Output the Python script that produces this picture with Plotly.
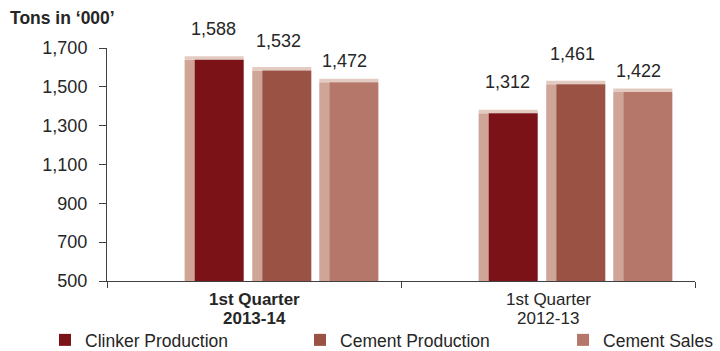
import plotly.graph_objects as go

# ---- data ----
quarter_labels = ["1st Quarter", "1st Quarter"]
year_labels = ["2013-14", "2012-13"]
categories = ["Q1 2013-14", "Q1 2012-13"]
series_names = ["Clinker Production", "Cement Production", "Cement Sales"]
clinker = [1588, 1312]
cement_prod = [1532, 1461]
cement_sales = [1472, 1422]
series_values = [clinker, cement_prod, cement_sales]
y_ticks = [500, 700, 900, 1100, 1300, 1500, 1700]

# ---- style ----
front_colors = ["#7B1218", "#9A5244", "#B47769"]
side_color = "#CFA597"
top_color = "#E4CBC1"
DEPTH = 52          # perspective lift of the 3D front face (value units)
TOP_H = 18          # thickness of the 3D top face (value units)
side_offsets = [-0.236, -0.006, 0.222]
SIDE_W = 0.034
FRONT_W = 0.167
label_dx = [-41, 24, 90]
label_dy = [41, 40, 31]
legend_x = [0.0625, 0.4167, 0.782]
bold_cat = [True, False]
text_color = "#262626"
FONT = "Liberation Sans, Arial, sans-serif"
FS = 18

fig = go.Figure()
legend_ids = ["legend", "legend2", "legend3"]
for i, (name, vals) in enumerate(zip(series_names, series_values)):
    lifted = [v + DEPTH for v in vals]
    fig.add_trace(go.Bar(x=categories, y=lifted, offset=side_offsets[i], width=SIDE_W,
                         marker=dict(color=side_color, line=dict(width=0)),
                         showlegend=False, hoverinfo="skip"))
    fig.add_trace(go.Bar(x=categories, y=[TOP_H] * len(vals), base=lifted,
                         offset=side_offsets[i], width=SIDE_W + FRONT_W,
                         marker=dict(color=top_color, line=dict(width=0)),
                         showlegend=False, hoverinfo="skip"))
    fig.add_trace(go.Bar(x=categories, y=lifted, offset=side_offsets[i] + SIDE_W,
                         width=FRONT_W, name=name, legend=legend_ids[i],
                         marker=dict(color=front_colors[i], line=dict(width=0)),
                         customdata=vals, hovertemplate="%{customdata:,}<extra>" + name + "</extra>"))
    for c, v in zip(categories, vals):
        fig.add_annotation(x=c, y=v, xref="x", yref="y", text=f"{v:,}", showarrow=False,
                           xshift=label_dx[i], yshift=label_dy[i],
                           font=dict(family=FONT, size=FS, color=text_color))

# category labels (two tight lines each)
for c, q, yr, b in zip(categories, quarter_labels, year_labels, bold_cat):
    for txt, shift in ((q, -18), (yr, -37.5)):
        fig.add_annotation(x=c, y=0, xref="x", yref="paper", text=f"<b>{txt}</b>" if b else txt,
                           showarrow=False, yanchor="middle", yshift=shift, borderpad=0,
                           font=dict(family=FONT, size=17, color=text_color))

fig.add_annotation(xref="paper", yref="paper", x=-0.168, y=1.129, xanchor="left", yanchor="middle",
                   text="<b>Tons in ‘000’</b>", showarrow=False,
                   font=dict(family=FONT, size=17.5, color=text_color))

legend_common = dict(orientation="h", xref="container", yref="container", y=1 - 340 / 351,
                     xanchor="left", yanchor="middle", bgcolor="rgba(0,0,0,0)",
                     font=dict(family=FONT, size=17.5, color=text_color))

fig.update_layout(
    width=720, height=351,
    margin=dict(l=107, r=25, t=48, b=70, autoexpand=False),
    paper_bgcolor="white", plot_bgcolor="white",
    barmode="overlay",
    font=dict(family=FONT, size=FS, color=text_color),
    showlegend=True,
    legend=dict(x=legend_x[0], **legend_common),
    legend2=dict(x=legend_x[1], **legend_common),
    legend3=dict(x=legend_x[2], **legend_common),
    xaxis=dict(type="category", range=[-0.5, 1.5], showline=True, linecolor="#404040", linewidth=1,
               ticks="outside", tickson="boundaries", ticklen=6, tickcolor="#404040",
               showgrid=False, zeroline=False, automargin=False, showticklabels=False),
    yaxis=dict(range=[500, 1700], tickvals=y_ticks, ticktext=[f"{t:,}" for t in y_ticks],
               showline=True, linecolor="#404040", linewidth=1, ticks="outside", ticklen=7,
               tickcolor="#404040", showgrid=False, zeroline=False, automargin=False,
               ticklabelstandoff=8,
               tickfont=dict(family=FONT, size=FS, color=text_color)),
)

fig.write_html("out.html")
